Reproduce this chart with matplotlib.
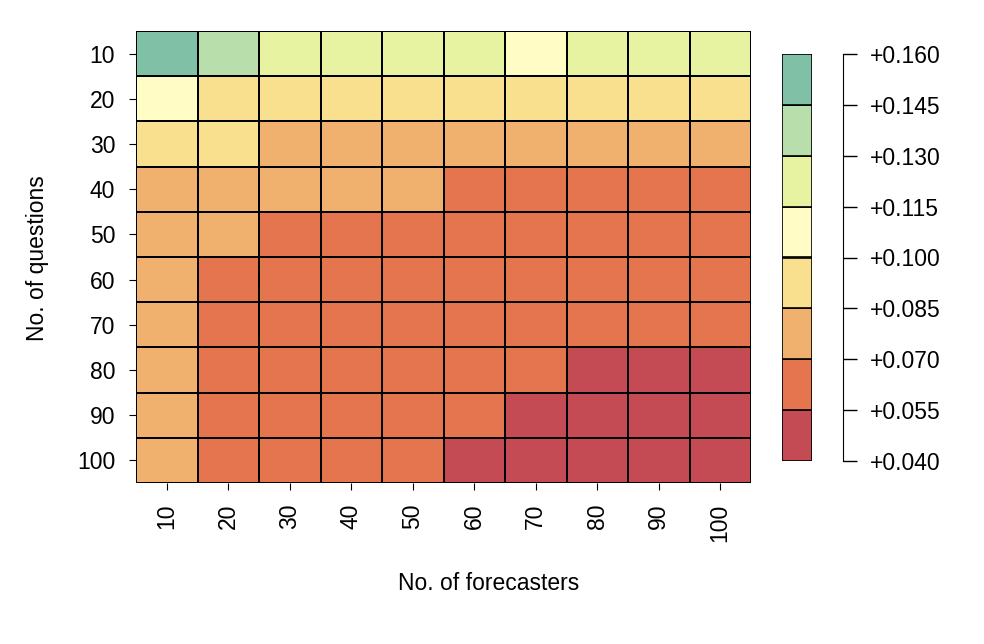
import numpy as np
import matplotlib.pyplot as plt
from matplotlib.colors import ListedColormap, BoundaryNorm

plt.rcParams['font.family'] = ['Liberation Sans', 'DejaVu Sans']

forecasters = [10, 20, 30, 40, 50, 60, 70, 80, 90, 100]
questions = [10, 20, 30, 40, 50, 60, 70, 80, 90, 100]

# values (rows = questions, cols = forecasters)
q10 = [0.152, 0.138, 0.124, 0.122, 0.121, 0.120, 0.112, 0.119, 0.118, 0.117]
q20 = [0.108, 0.096, 0.094, 0.093, 0.092, 0.091, 0.090, 0.090, 0.089, 0.089]
q30 = [0.093, 0.088, 0.083, 0.081, 0.080, 0.079, 0.078, 0.077, 0.076, 0.076]
q40 = [0.082, 0.078, 0.075, 0.073, 0.071, 0.069, 0.068, 0.067, 0.066, 0.065]
q50 = [0.080, 0.072, 0.068, 0.066, 0.065, 0.064, 0.063, 0.062, 0.061, 0.060]
q60 = [0.078, 0.069, 0.066, 0.064, 0.063, 0.062, 0.061, 0.060, 0.059, 0.058]
q70 = [0.077, 0.068, 0.065, 0.063, 0.062, 0.060, 0.059, 0.058, 0.057, 0.056]
q80 = [0.076, 0.067, 0.064, 0.062, 0.060, 0.059, 0.056, 0.054, 0.053, 0.052]
q90 = [0.075, 0.066, 0.063, 0.061, 0.059, 0.057, 0.054, 0.053, 0.052, 0.051]
q100 = [0.074, 0.065, 0.062, 0.060, 0.058, 0.054, 0.053, 0.052, 0.051, 0.050]

bounds = [0.040, 0.055, 0.070, 0.085, 0.100, 0.115, 0.130, 0.145, 0.160]
colors = ['#C44A53', '#E4754F', '#F0B06E', '#F8E08F',
          '#FFFDC5', '#E8F3A2', '#B8DEAC', '#80C0A6']
tick_labels = ['+0.040', '+0.055', '+0.070', '+0.085', '+0.100',
               '+0.115', '+0.130', '+0.145', '+0.160']

Z = np.array([q10, q20, q30, q40, q50, q60, q70, q80, q90, q100])
cmap = ListedColormap(colors)
norm = BoundaryNorm(bounds, cmap.N)

fig = plt.figure(figsize=(9.84, 6.44), dpi=100)
fs = 16.5

ax = fig.add_axes([136/984, 1 - 483/644, 615/984, 452/644])
xe = np.arange(len(forecasters) + 1) - 0.5
ye = np.arange(len(questions) + 1) - 0.5
ax.pcolormesh(xe, ye, Z, cmap=cmap, norm=norm, edgecolors='black', linewidth=1.2)
ax.set_xlim(-0.5, len(forecasters) - 0.5)
ax.set_ylim(len(questions) - 0.5, -0.5)
ax.set_xticks(range(len(forecasters)))
ax.set_xticklabels([str(f) for f in forecasters], rotation=90, fontsize=fs)
ax.set_yticks(range(len(questions)))
ax.set_yticklabels([str(q) for q in questions], fontsize=fs)
ax.tick_params(axis='x', length=5, pad=10)
ax.tick_params(axis='y', length=5, pad=10)
for s in ax.spines.values():
    s.set_visible(False)

fig.text(38/984, 1 - 258/644, 'No. of questions', rotation=90,
         ha='center', va='center', fontsize=fs)
fig.text(489/984, 1 - 583/644, 'No. of forecasters',
         ha='center', va='center', fontsize=fs)

# colour key
cax = fig.add_axes([782/984, 1 - 461/644, 30/984, 407/644])
for i in range(len(colors)):
    cax.bar(0, bounds[i + 1] - bounds[i], bottom=bounds[i], width=1,
            color=colors[i], edgecolor='black', linewidth=1.2)
cax.set_xlim(-0.5, 0.5)
cax.set_ylim(bounds[0], bounds[-1])
cax.axis('off')

# detached scale axis
sax = fig.add_axes([800/984, 1 - 461/644, 43/984, 407/644])
sax.set_ylim(bounds[0], bounds[-1])
sax.set_yticks(bounds)
sax.set_yticklabels(tick_labels, fontsize=fs)
sax.yaxis.tick_right()
sax.tick_params(axis='y', direction='out', length=10, width=1, pad=9)
sax.set_xticks([])
for k in ['left', 'top', 'bottom']:
    sax.spines[k].set_visible(False)
sax.patch.set_visible(False)

plt.savefig('out.png', dpi=100)
